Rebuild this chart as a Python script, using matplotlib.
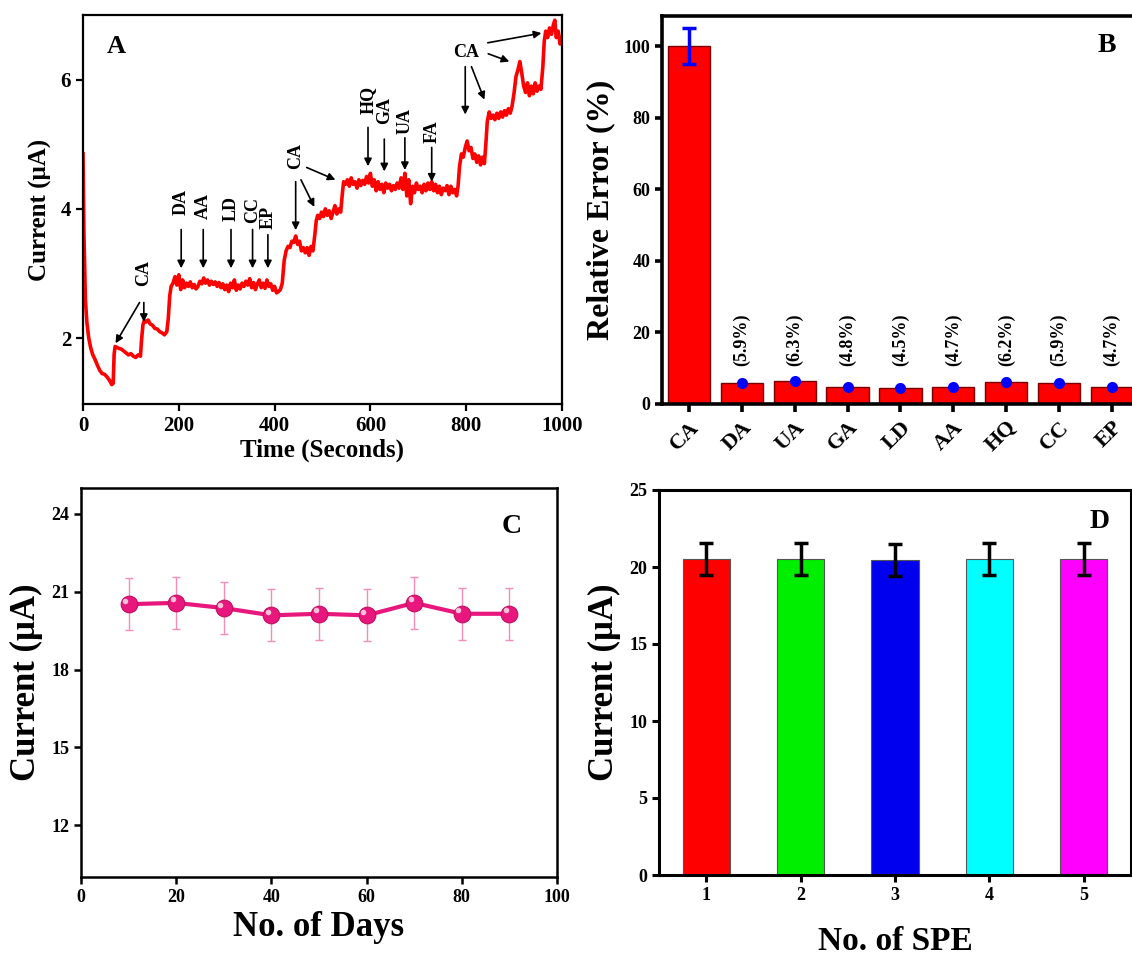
import matplotlib
matplotlib.use('Agg')
import matplotlib.pyplot as plt
from matplotlib.transforms import ScaledTranslation

plt.rcParams['font.family'] = ['Liberation Serif', 'DejaVu Serif']
plt.rcParams['font.weight'] = 'bold'
plt.rcParams['axes.labelweight'] = 'bold'

# ---------------- data ----------------
# Panel A: amperometric response
time_s = [0, 2, 5, 8, 12, 16, 20, 25, 30, 35, 40, 45, 50, 55, 60, 63, 65, 67, 70, 75, 80, 85, 90, 95,
          100, 105, 110, 115, 120, 122, 125, 128, 132, 136, 140, 145, 150, 155, 160, 165, 170, 175,
          178, 181, 184, 188, 192, 196, 200, 204, 208, 212, 216, 220, 224, 228, 232, 236, 240, 244,
          248, 252, 256, 260, 264, 268, 272, 276, 280, 284, 288, 292, 296, 300, 304, 308, 312, 316,
          320, 324, 328, 332, 336, 340, 344, 348, 352, 356, 360, 364, 368, 372, 376, 380, 384, 388,
          392, 396, 400, 404, 408, 412, 416, 420, 424, 428, 432, 436, 440, 444, 448, 452, 456, 460,
          464, 468, 472, 476, 480, 484, 487, 490, 494, 498, 502, 506, 510, 514, 518, 522, 526, 530,
          534, 538, 541, 544, 548, 552, 556, 560, 564, 568, 572, 576, 580, 584, 588, 592, 596, 600,
          604, 608, 612, 616, 620, 624, 628, 632, 636, 640, 644, 648, 652, 656, 660, 664, 668, 672,
          676, 680, 684, 688, 692, 696, 700, 704, 708, 712, 716, 720, 724, 728, 732, 736, 740, 744,
          748, 752, 756, 760, 764, 768, 772, 776, 780, 783, 786, 790, 794, 798, 802, 806, 810, 814,
          818, 822, 826, 830, 834, 838, 841, 844, 848, 852, 856, 860, 864, 868, 872, 876, 880, 884,
          888, 892, 896, 900, 904, 908, 912, 916, 920, 924, 928, 932, 936, 940, 944, 948, 952, 956,
          960, 963, 966, 970, 974, 978, 982, 985, 988, 992, 996, 1000]
current_uA = [4.85, 3.6, 2.6, 2.25, 2.0, 1.85, 1.75, 1.67, 1.58, 1.5, 1.45, 1.44, 1.4, 1.35, 1.28, 1.3,
              1.75, 1.87, 1.86, 1.84, 1.83, 1.80, 1.77, 1.74, 1.76, 1.72, 1.70, 1.74, 1.72, 1.95, 2.2,
              2.27, 2.25, 2.28, 2.22, 2.2, 2.15, 2.14, 2.1, 2.08, 2.05, 2.1, 2.3, 2.65, 2.8, 2.85, 2.95,
              2.82, 2.98, 2.75, 2.9, 2.78, 2.85, 2.8, 2.87, 2.78, 2.83, 2.76, 2.8, 2.88, 2.84, 2.93,
              2.85, 2.9, 2.82, 2.88, 2.83, 2.87, 2.8, 2.86, 2.78, 2.84, 2.75, 2.82, 2.72, 2.85, 2.78,
              2.9, 2.74, 2.82, 2.76, 2.85, 2.8, 2.88, 2.82, 2.92, 2.78, 2.86, 2.75, 2.84, 2.9, 2.78,
              2.85, 2.77, 2.9, 2.8, 2.84, 2.74, 2.8, 2.7, 2.72, 2.75, 2.85, 3.2, 3.35, 3.42, 3.4, 3.5,
              3.48, 3.58, 3.45, 3.5, 3.35, 3.4, 3.32, 3.4, 3.28, 3.42, 3.35, 3.6, 3.82, 3.9, 3.85, 3.95,
              3.88, 4.0, 3.9, 3.97, 3.85, 3.95, 4.05, 3.92, 4.0, 3.95, 4.2, 4.42, 4.38, 4.45, 4.35,
              4.48, 4.38, 4.42, 4.32, 4.45, 4.36, 4.44, 4.38, 4.5, 4.4, 4.55, 4.35, 4.45, 4.28, 4.42,
              4.3, 4.38, 4.25, 4.4, 4.32, 4.38, 4.28, 4.36, 4.3, 4.4, 4.32, 4.48, 4.3, 4.55, 4.2, 4.45,
              4.08, 4.35, 4.25, 4.4, 4.3, 4.35, 4.25, 4.38, 4.28, 4.4, 4.3, 4.42, 4.28, 4.38, 4.25,
              4.35, 4.22, 4.32, 4.28, 4.36, 4.22, 4.35, 4.25, 4.3, 4.2, 4.35, 4.65, 4.85, 4.8, 4.95,
              5.05, 4.9, 4.95, 4.78, 4.85, 4.72, 4.82, 4.68, 4.8, 4.7, 5.0, 5.35, 5.5, 5.4, 5.45, 5.38,
              5.48, 5.4, 5.5, 5.42, 5.52, 5.45, 5.55, 5.48, 5.6, 5.8, 6.05, 6.15, 6.28, 6.1, 5.9, 5.8,
              5.95, 5.75, 5.9, 5.78, 5.95, 5.82, 5.9, 5.85, 6.2, 6.6, 6.75, 6.65, 6.8, 6.7, 6.85, 6.92,
              6.65, 6.75, 6.55, 6.65]

# Panel B: relative error
interferents = ['CA', 'DA', 'UA', 'GA', 'LD', 'AA', 'HQ', 'CC', 'EP']
rel_error = [100, 5.9, 6.3, 4.8, 4.5, 4.7, 6.2, 5.9, 4.7]
rel_error_err = [5.0, 0.4, 0.4, 0.4, 0.4, 0.4, 0.4, 0.4, 0.4]
rel_error_labels = ['', '(5.9%)', '(6.3%)', '(4.8%)', '(4.5%)', '(4.7%)', '(6.2%)', '(5.9%)', '(4.7%)']

# Panel C: stability over days
days = [10, 20, 30, 40, 50, 60, 70, 80, 90]
stab_current = [20.52, 20.57, 20.37, 20.09, 20.15, 20.09, 20.57, 20.15, 20.15]
stab_err = [1.0, 1.0, 1.0, 1.0, 1.0, 1.0, 1.0, 1.0, 1.0]

# Panel D: reproducibility
spe = [1, 2, 3, 4, 5]
spe_current = [20.5, 20.5, 20.45, 20.5, 20.5]
spe_err = [1.05, 1.05, 1.05, 1.05, 1.05]
spe_colors = ['#ff0000', '#00ee00', '#0000ee', '#00ffff', '#ff00ff']

# ---------------- figure ----------------
W, H = 1132, 957
fig = plt.figure(figsize=(W / 100, H / 100), dpi=100)


def px_axes(l, t, r, b):
    return fig.add_axes([l / W, 1 - b / H, (r - l) / W, (b - t) / H])


def style(ax, lw=1.8, size=13):
    for s in ax.spines.values():
        s.set_linewidth(lw)
    ax.tick_params(direction='out', width=lw, length=5, labelsize=size)
    for lab in ax.get_xticklabels() + ax.get_yticklabels():
        lab.set_fontweight('bold')


arrow_kw = dict(arrowstyle='-|>', color='black', lw=1.2, mutation_scale=11, shrinkA=0, shrinkB=0)

# ----- Panel A -----
axA = px_axes(83, 15, 562, 404)
axA.plot(time_s, current_uA, color='#ff0000', lw=2.6)
axA.set_xlim(0, 1000)
axA.set_ylim(0.98, 7.0)
axA.set_xticks([0, 200, 400, 600, 800, 1000])
axA.set_yticks([2, 4, 6])
style(axA, lw=1.6, size=15)
axA.set_xlabel('Time (Seconds)', fontsize=18, fontweight='bold', labelpad=2)
axA.set_ylabel('Current (\u03bcA)', fontsize=18, fontweight='bold', labelpad=6)
axA.text(0.05, 0.92, 'A', transform=axA.transAxes, fontsize=19, fontweight='bold', ha='left', va='center')

# first CA
axA.text(127, 3.0, 'CA', rotation=90, fontsize=13, ha='center', va='center')
axA.annotate('', xy=(68, 1.92), xytext=(118, 2.55), arrowprops=arrow_kw)
axA.annotate('', xy=(127, 2.25), xytext=(127, 2.55), arrowprops=arrow_kw)
# interferents group 1
for t, lab, ty, a0 in [(205, 'DA', 4.1, 3.68), (251, 'AA', 4.05, 3.68), (309, 'LD', 4.0, 3.68),
                       (354, 'CC', 3.98, 3.68), (386, 'EP', 3.86, 3.6)]:
    axA.text(t, ty, lab, rotation=90, fontsize=13, ha='center', va='center')
    axA.annotate('', xy=(t, 3.08), xytext=(t, a0), arrowprops=arrow_kw)
# second CA
axA.text(444, 4.82, 'CA', rotation=90, fontsize=13, ha='center', va='center')
axA.annotate('', xy=(444, 3.67), xytext=(444, 4.42), arrowprops=arrow_kw)
axA.annotate('', xy=(483, 4.03), xytext=(455, 4.45), arrowprops=arrow_kw)
axA.annotate('', xy=(527, 4.45), xytext=(467, 4.64), arrowprops=arrow_kw)
# interferents group 2
for t, lab, ty, a0, a1 in [(595, 'HQ', 5.68, 5.26, 4.66), (629, 'GA', 5.52, 5.08, 4.58),
                           (672, 'UA', 5.36, 5.1, 4.6), (728, 'FA', 5.2, 4.95, 4.42)]:
    axA.text(t, ty, lab, rotation=90, fontsize=13, ha='center', va='center')
    axA.annotate('', xy=(t, a1), xytext=(t, a0), arrowprops=arrow_kw)
# top CA
axA.text(800, 6.42, 'CA', fontsize=13, ha='center', va='center')
axA.annotate('', xy=(798, 5.46), xytext=(798, 6.2), arrowprops=arrow_kw)
axA.annotate('', xy=(838, 5.69), xytext=(811, 6.2), arrowprops=arrow_kw)
axA.annotate('', xy=(890, 6.28), xytext=(846, 6.4), arrowprops=arrow_kw)
axA.annotate('', xy=(957, 6.72), xytext=(845, 6.57), arrowprops=arrow_kw)

# ----- Panel B -----
axB = px_axes(662, 16, 1132, 404)
xb = list(range(len(interferents)))
axB.bar(xb, rel_error, width=0.8, color='#ff0000', edgecolor='#7a0000', linewidth=1.0, zorder=2)
axB.errorbar(xb[:1], rel_error[:1], yerr=rel_error_err[:1], fmt='none', ecolor='#0000ff',
             elinewidth=2.5, capsize=5, capthick=2.5, zorder=3)
axB.errorbar(xb[1:], rel_error[1:], yerr=rel_error_err[1:], fmt='none', ecolor='#0000ff',
             elinewidth=4, capsize=0, zorder=3)
axB.plot(xb[1:], rel_error[1:], linestyle='none', marker='o', markersize=8, markerfacecolor='#0000ff',
         markeredgecolor='none', zorder=3)
for x, lab in zip(xb, rel_error_labels):
    if lab:
        axB.text(x, 10.5, lab, rotation=90, fontsize=13, ha='center', va='bottom')
axB.set_xlim(-0.51, 8.38)
axB.set_ylim(0, 108.4)
axB.set_xticks(xb)
axB.set_xticklabels(interferents)
axB.set_yticks([0, 20, 40, 60, 80, 100])
style(axB, lw=2.6, size=13)
axB.spines['right'].set_visible(False)
axB.tick_params(axis='x', labelsize=16, length=6)
for lab in axB.get_xticklabels():
    lab.set_rotation(45)
    lab.set_ha('right')
    lab.set_rotation_mode('anchor')
axB.set_ylabel('Relative Error (%)', fontsize=23, fontweight='bold', labelpad=6)
fig.text(1107 / W, 1 - 46 / H, 'B', fontsize=20, fontweight='bold', ha='center', va='center')

# ----- Panel C -----
axC = px_axes(81, 488, 557, 877)
axC.errorbar(days, stab_current, yerr=stab_err, fmt='none', ecolor='#f58cbc', elinewidth=1.0,
             capsize=3, capthick=1.0, zorder=2)
axC.plot(days, stab_current, color='#e8177d', lw=3, marker='o', markersize=12,
         markerfacecolor='#e8177d', markeredgecolor='#c0105f', markeredgewidth=0.8, zorder=3)
hl = axC.transData + ScaledTranslation(-2.5 / 72, 2.5 / 72, fig.dpi_scale_trans)
axC.plot(days, stab_current, linestyle='none', marker='o', markersize=4,
         markerfacecolor='#f9c0da', markeredgecolor='none', zorder=4, transform=hl)
axC.set_xlim(0, 100)
axC.set_ylim(10, 25)
axC.set_xticks([0, 20, 40, 60, 80, 100])
axC.set_yticks([12, 15, 18, 21, 24])
style(axC, lw=1.8, size=13)
axC.set_xlabel('No. of Days', fontsize=25, fontweight='bold', labelpad=4)
axC.set_ylabel('Current (\u03bcA)', fontsize=25, fontweight='bold', labelpad=6)
axC.text(0.905, 0.9, 'C', transform=axC.transAxes, fontsize=20, fontweight='bold', ha='center', va='center')

# ----- Panel D -----
axD = px_axes(659, 490, 1131, 875)
axD.bar(spe, spe_current, width=0.5, color=spe_colors, edgecolor='#555555', linewidth=0.8, zorder=2)
axD.errorbar(spe, spe_current, yerr=spe_err, fmt='none', ecolor='black', elinewidth=2.5,
             capsize=5, capthick=2.5, zorder=3)
axD.set_xlim(0.5, 5.5)
axD.set_ylim(0, 25)
axD.set_xticks(spe)
axD.set_yticks([0, 5, 10, 15, 20, 25])
style(axD, lw=2.2, size=13)
axD.set_xlabel('No. of SPE', fontsize=24, fontweight='bold', labelpad=16)
axD.set_ylabel('Current (\u03bcA)', fontsize=25, fontweight='bold', labelpad=6)
axD.text(0.934, 0.917, 'D', transform=axD.transAxes, fontsize=20, fontweight='bold', ha='center', va='center')

fig.savefig('out.png', dpi=100)
